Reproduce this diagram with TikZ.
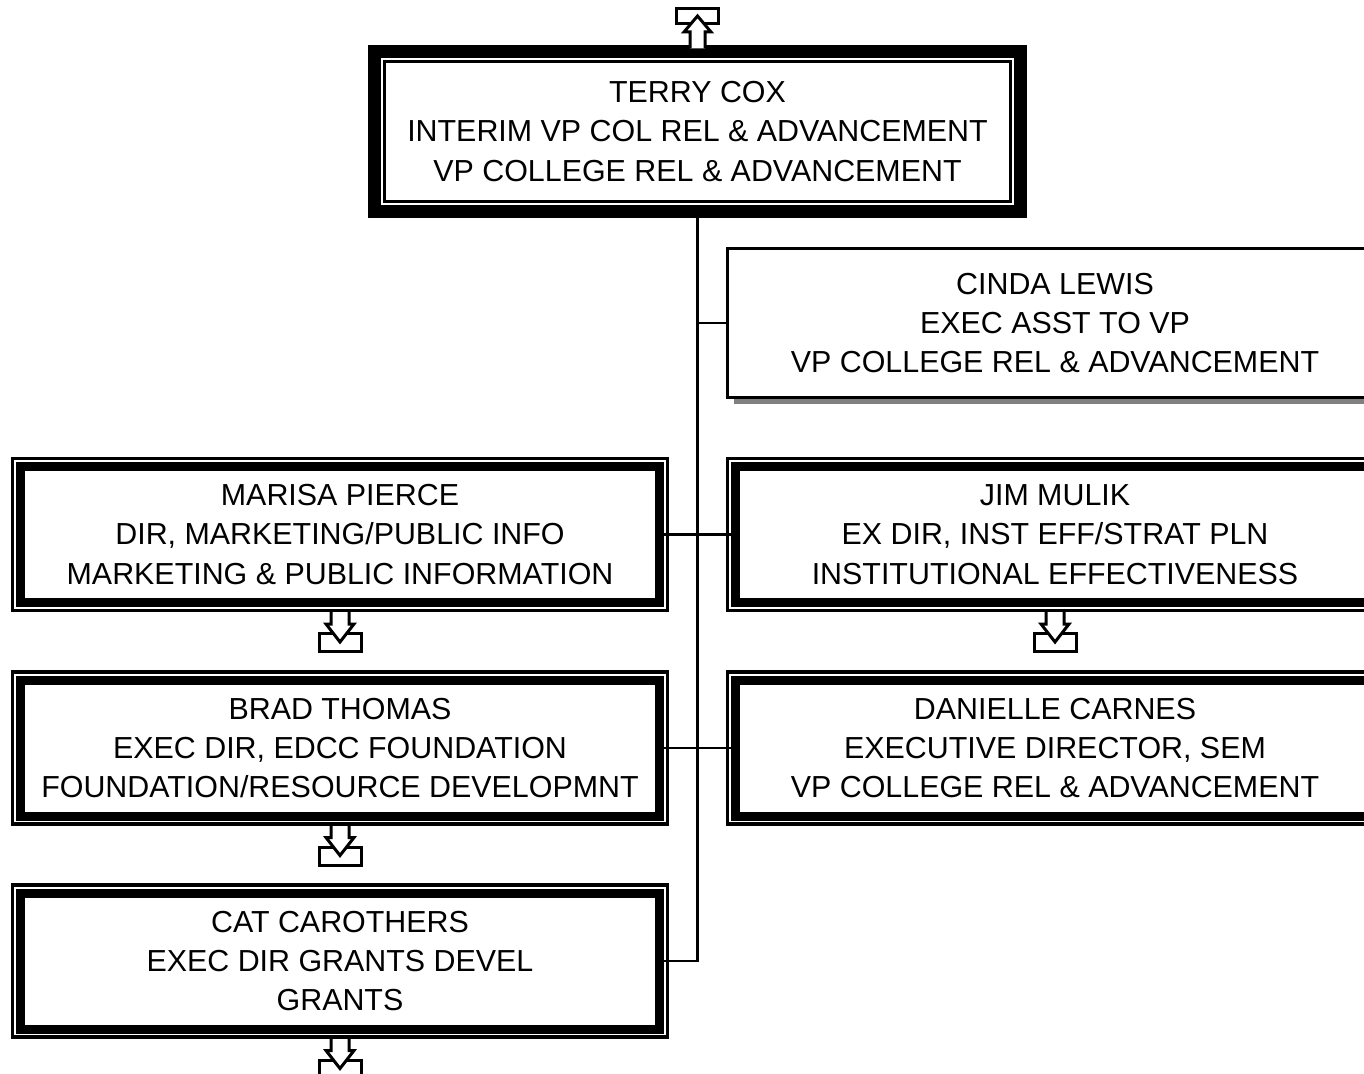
\documentclass[tikz,border=0pt]{standalone}
\usepackage{fontspec}
\setmainfont{Liberation Sans}
\usetikzlibrary{shadows}
\tikzset{
  boxtext/.style={align=center, inner sep=0pt, outer sep=0pt, fill=white, font=\fontsize{15.2}{19.6}\selectfont},
  topbox/.style={boxtext, draw, line width=6.5pt, minimum width=323pt, minimum height=80pt},
  mgrbox/.style={boxtext, draw, line width=4.5pt, minimum width=319.5pt, minimum height=68pt},
  asstbox/.style={boxtext, draw, line width=1.5pt, minimum width=327.5pt, minimum height=74.5pt,
    drop shadow={shadow xshift=3pt, shadow yshift=-3.2pt, fill=gray, opacity=1}},
  frame/.style={draw, line width=1.6pt},
  link/.style={draw, line width=1.2pt},
  tab/.style={draw, line width=1.5pt, line join=miter}
}
% hollow arrow into a small tab under a box
\newcommand{\downtab}[1]{%
  \draw[tab] ([shift={(-21,31)}]#1.south) rectangle ++(42,18);
  \draw[tab, fill=white] ([shift={(-9,8)}]#1.south) -- ++(0,13.5) -- ++(-5,0)
    -- ++(14,18) -- ++(14,-18) -- ++(-5,0) -- ++(0,-13.5);}

\begin{document}
\begin{tikzpicture}[x=0.5pt, y=-0.5pt]
  \useasboundingbox (0,0) rectangle (1364,1074);
  \node[topbox] (terry) at (697.5,131.5) {TERRY COX\\INTERIM VP COL REL \& ADVANCEMENT\\VP COLLEGE REL \& ADVANCEMENT};
  \node[asstbox] (cinda) at (1055,323) {CINDA LEWIS\\EXEC ASST TO VP\\VP COLLEGE REL \& ADVANCEMENT};
  \node[mgrbox] (marisa) at (340,534.5) {MARISA PIERCE\\DIR, MARKETING/PUBLIC INFO\\MARKETING \& PUBLIC INFORMATION};
  \node[mgrbox] (jim) at (1055,534.5) {JIM MULIK\\EX DIR, INST EFF/STRAT PLN\\INSTITUTIONAL EFFECTIVENESS};
  \node[mgrbox] (brad) at (340,748) {BRAD THOMAS\\EXEC DIR, EDCC FOUNDATION\\FOUNDATION/RESOURCE DEVELOPMNT};
  \node[mgrbox] (danielle) at (1055,748) {DANIELLE CARNES\\EXECUTIVE DIRECTOR, SEM\\VP COLLEGE REL \& ADVANCEMENT};
  \node[mgrbox] (cat) at (340,961) {CAT CAROTHERS\\EXEC DIR GRANTS DEVEL\\GRANTS};

  % reporting lines
  \draw[link] (terry.south) -- (terry.south |- cat.east) -- (cat.east);
  \draw[link] (terry.south |- cinda.west) -- (cinda.west);
  \draw[link] (marisa.east) -- (jim.west);
  \draw[link] (brad.east) -- (danielle.west);

  % inner line of the top box
  \draw[frame] ([shift={(10,10)}]terry.north west) rectangle ([shift={(-10,-10)}]terry.south east);

  % up tab above the top box
  \draw[tab] ([shift={(-21,-43)}]terry.north) rectangle ++(42,15);
  \draw[tab, fill=white] ([shift={(-7.5,-3)}]terry.north) -- ++(0,-16.5) -- ++(-6,0)
    -- ++(13.5,-16) -- ++(13.5,16) -- ++(-6,0) -- ++(0,16.5);

  \foreach \n in {marisa,jim,brad,cat}
    \downtab{\n};

  % outer line of the manager boxes
  \foreach \n in {marisa,jim,brad,danielle,cat}
    \draw[frame] ([shift={(-8,-8)}]\n.north west) rectangle ([shift={(8,8)}]\n.south east);
\end{tikzpicture}
\end{document}
